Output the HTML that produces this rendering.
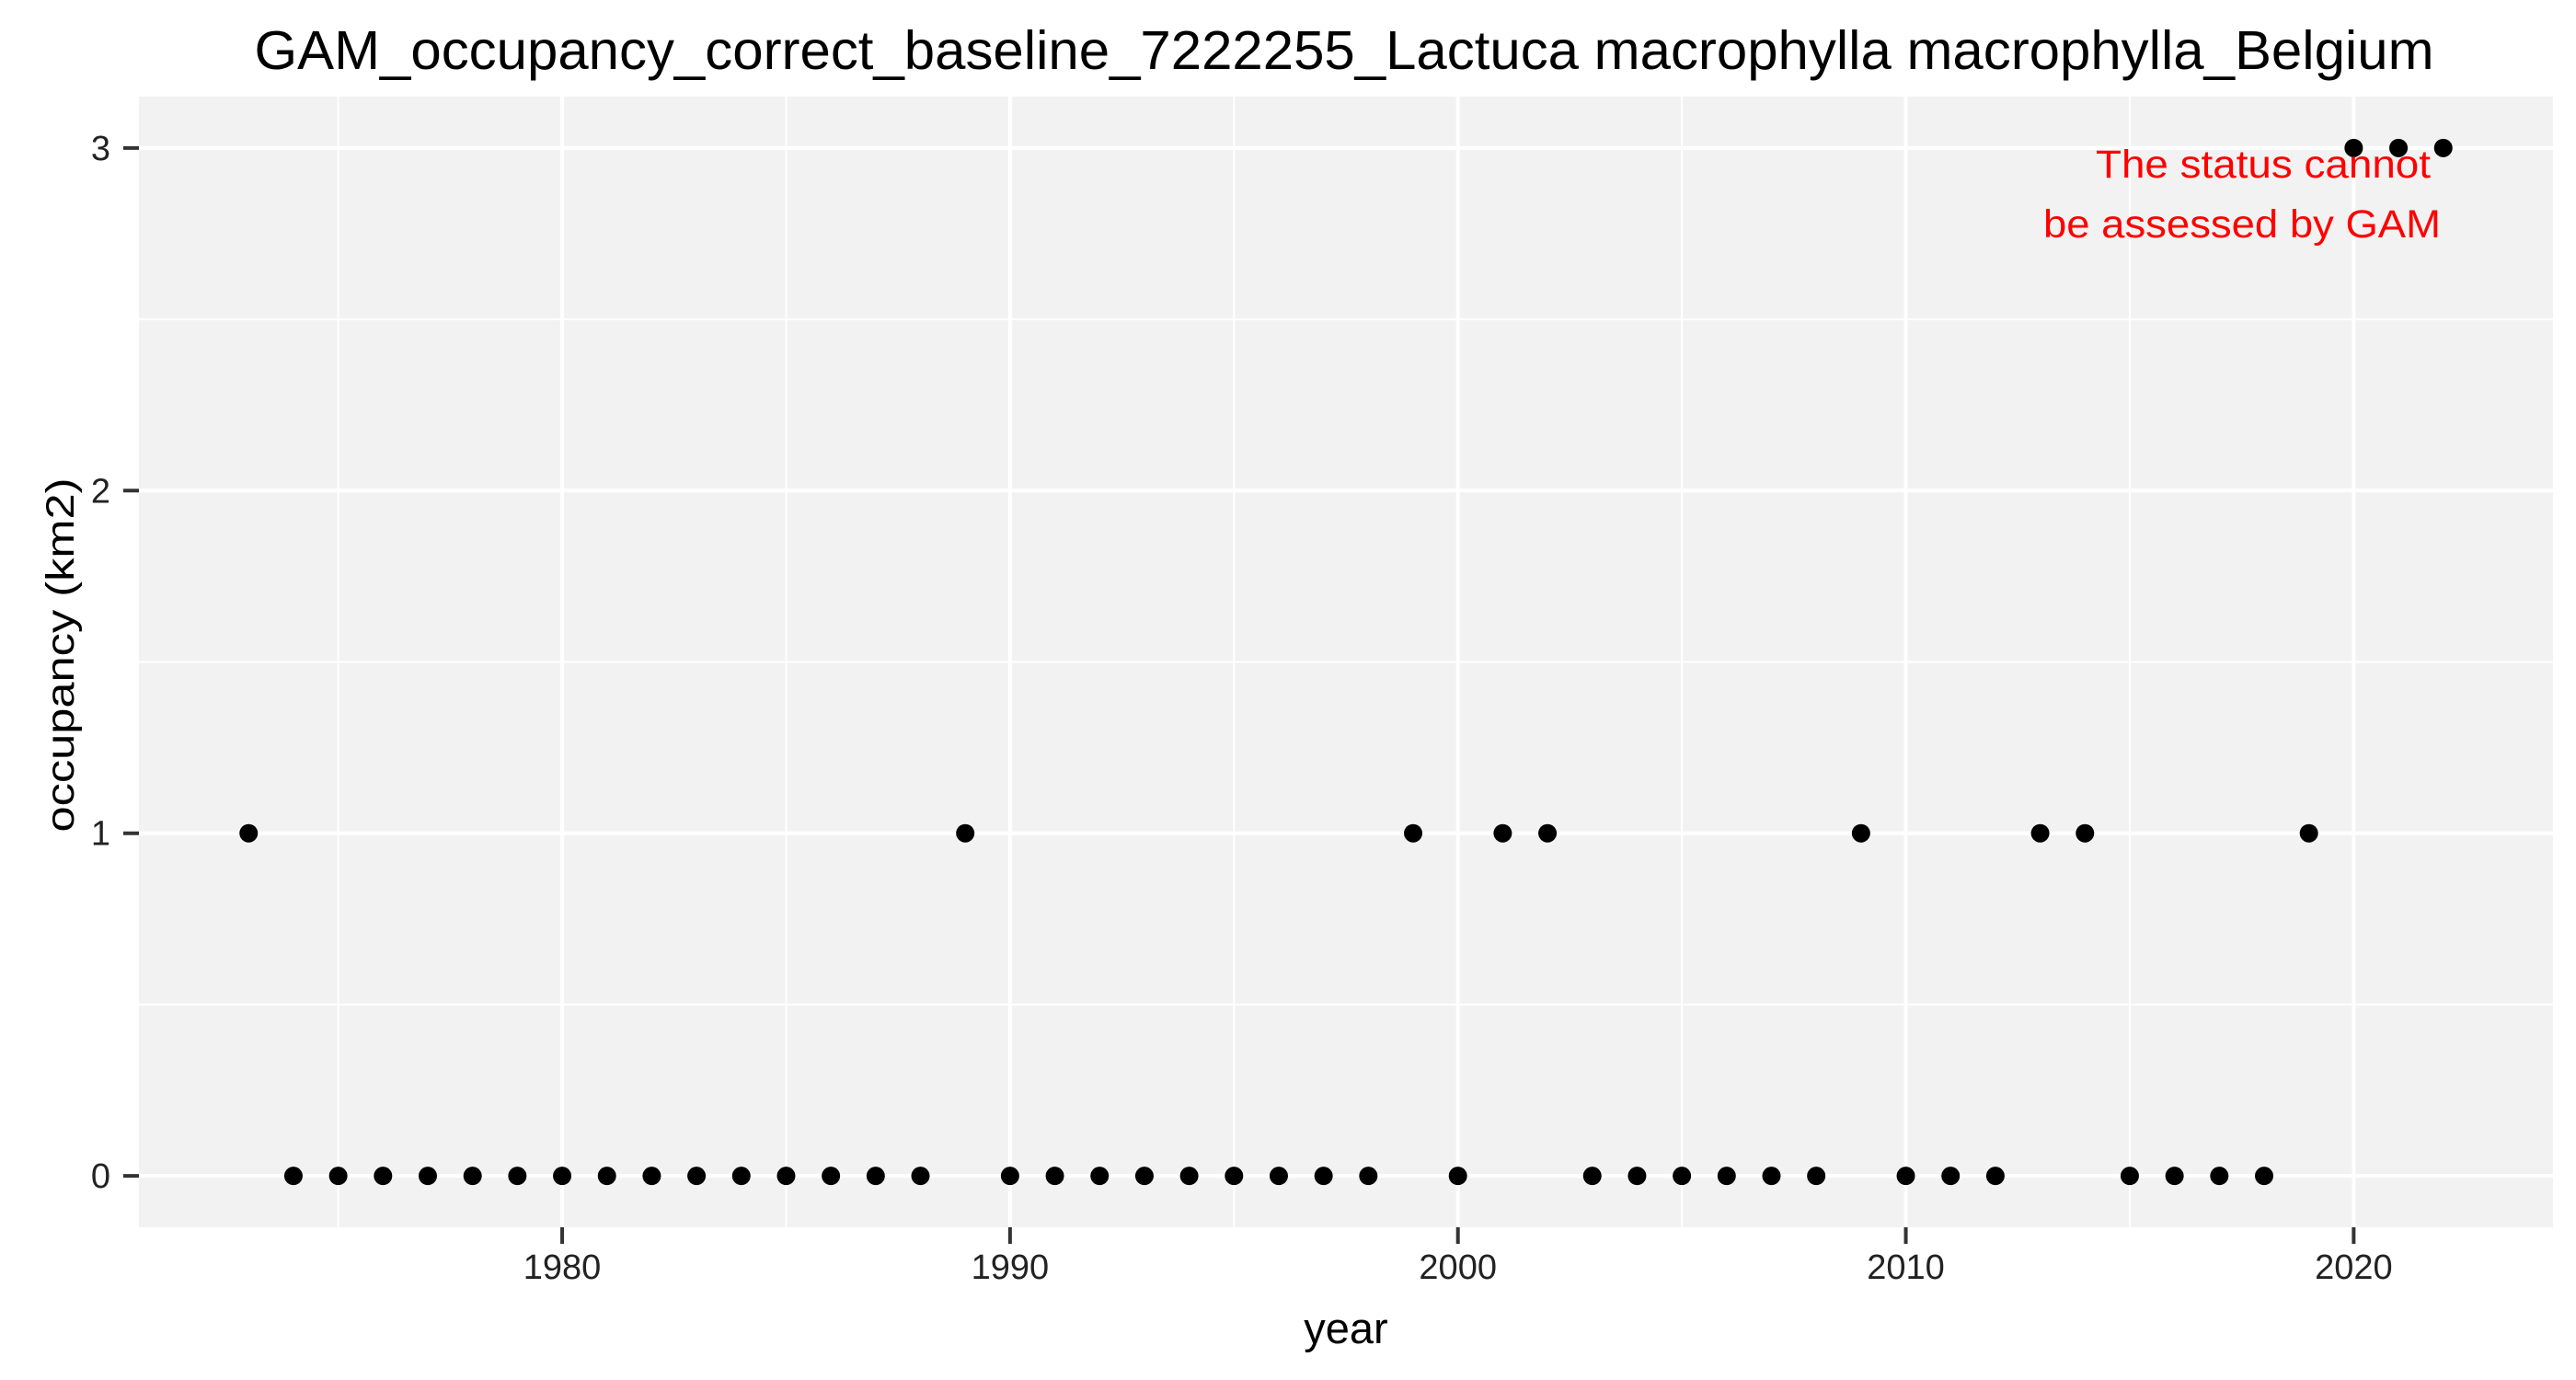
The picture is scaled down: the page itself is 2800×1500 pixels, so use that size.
<!DOCTYPE html>
<html><head><meta charset="utf-8"><style>
html,body{margin:0;padding:0;background:#fff;}
svg{display:block;font-family:"Liberation Sans",Arial,sans-serif;}
</style></head><body>
<svg id="chart" width="2800" height="1500" viewBox="0 0 2800 1500" xmlns="http://www.w3.org/2000/svg">
<rect x="0" y="0" width="2800" height="1500" fill="#fff"/>
<text x="1461" y="75" font-size="59" text-anchor="middle" textLength="2369" lengthAdjust="spacingAndGlyphs" fill="#000">GAM_occupancy_correct_baseline_7222255_Lactuca macrophylla macrophylla_Belgium</text>
<rect x="151" y="105" width="2624" height="1229" fill="#f2f2f2"/>
<g id="grid"></g>
<g id="xaxis"></g>
<g id="yaxis"></g>
<g id="points"></g>
<text x="2460" y="193" font-size="43" text-anchor="middle" fill="#ff0000" textLength="364" lengthAdjust="spacingAndGlyphs">The status cannot</text>
<text x="2437" y="258" font-size="43" text-anchor="middle" fill="#ff0000" textLength="432" lengthAdjust="spacingAndGlyphs">be assessed by GAM</text>
<text x="1463" y="1460" font-size="47" text-anchor="middle" fill="#000">year</text>
<text x="0" y="0" font-size="43" text-anchor="middle" fill="#000" transform="translate(80,712) rotate(-90)" textLength="385" lengthAdjust="spacingAndGlyphs">occupancy (km2)</text>
</svg>
<script>
const years = [1973,1974,1975,1976,1977,1978,1979,1980,1981,1982,1983,1984,1985,1986,1987,1988,1989,1990,1991,1992,1993,1994,1995,1996,1997,1998,1999,2000,2001,2002,2003,2004,2005,2006,2007,2008,2009,2010,2011,2012,2013,2014,2015,2016,2017,2018,2019,2020,2021,2022];
const occupancy = [1,0,0,0,0,0,0,0,0,0,0,0,0,0,0,0,1,0,0,0,0,0,0,0,0,0,1,0,1,1,0,0,0,0,0,0,1,0,0,0,1,1,0,0,0,0,1,3,3,3];
const xTicks = [1980,1990,2000,2010,2020];
const xMinor = [1975,1985,1995,2005,2015];
const yTicks = [0,1,2,3];
const yMinor = [0.5,1.5,2.5];

const PL=151, PR=2775, PT=105, PB=1334;
const xMin = Math.min(...years), xMax = Math.max(...years);
const xPad = (xMax-xMin)*0.05;
const yMinV = Math.min(0,...occupancy), yMaxV = Math.max(...occupancy);
const yPad = (yMaxV-yMinV)*0.05;
function sx(v){return PL+(v-(xMin-xPad))/((xMax+xPad)-(xMin-xPad))*(PR-PL);}
function sy(v){return PB-(v-(yMinV-yPad))/((yMaxV+yPad)-(yMinV-yPad))*(PB-PT);}

const NS="http://www.w3.org/2000/svg";
function mk(tag, attrs, parent){const e=document.createElementNS(NS,tag);for(const k in attrs)e.setAttribute(k,attrs[k]);parent.appendChild(e);return e;}
const grid=document.getElementById('grid'), xa=document.getElementById('xaxis'), ya=document.getElementById('yaxis'), pts=document.getElementById('points');

yMinor.forEach(v=>{const l=mk('line',{x1:PL,x2:PR,y1:sy(v),y2:sy(v),stroke:'#fff','stroke-width':2},grid);

});
xMinor.forEach(v=>{const l=mk('line',{x1:sx(v),x2:sx(v),y1:PT,y2:PB,stroke:'#fff','stroke-width':2},grid);

});
yTicks.forEach(v=>{const l=mk('line',{x1:PL,x2:PR,y1:sy(v),y2:sy(v),stroke:'#fff','stroke-width':4},grid);


const t=mk('line',{x1:PL-17,x2:PL,y1:sy(v),y2:sy(v),stroke:'#333','stroke-width':4},ya);


const lb=mk('text',{x:PL-31,y:sy(v)+13,'font-size':38,'text-anchor':'end',fill:'#222'},ya);
lb.textContent=v;

});
xTicks.forEach(v=>{const l=mk('line',{x1:sx(v),x2:sx(v),y1:PT,y2:PB,stroke:'#fff','stroke-width':4},grid);


const t=mk('line',{x1:sx(v),x2:sx(v),y1:PB,y2:PB+18,stroke:'#333','stroke-width':4},xa);


const lb=mk('text',{x:sx(v),y:1390,'font-size':38,'text-anchor':'middle',fill:'#222'},xa);
lb.textContent=v;

});
years.forEach((yr,i)=>{const c=mk('circle',{cx:sx(yr),cy:sy(occupancy[i]),r:10,fill:'#000'},pts);

});
</script>
</body></html>
